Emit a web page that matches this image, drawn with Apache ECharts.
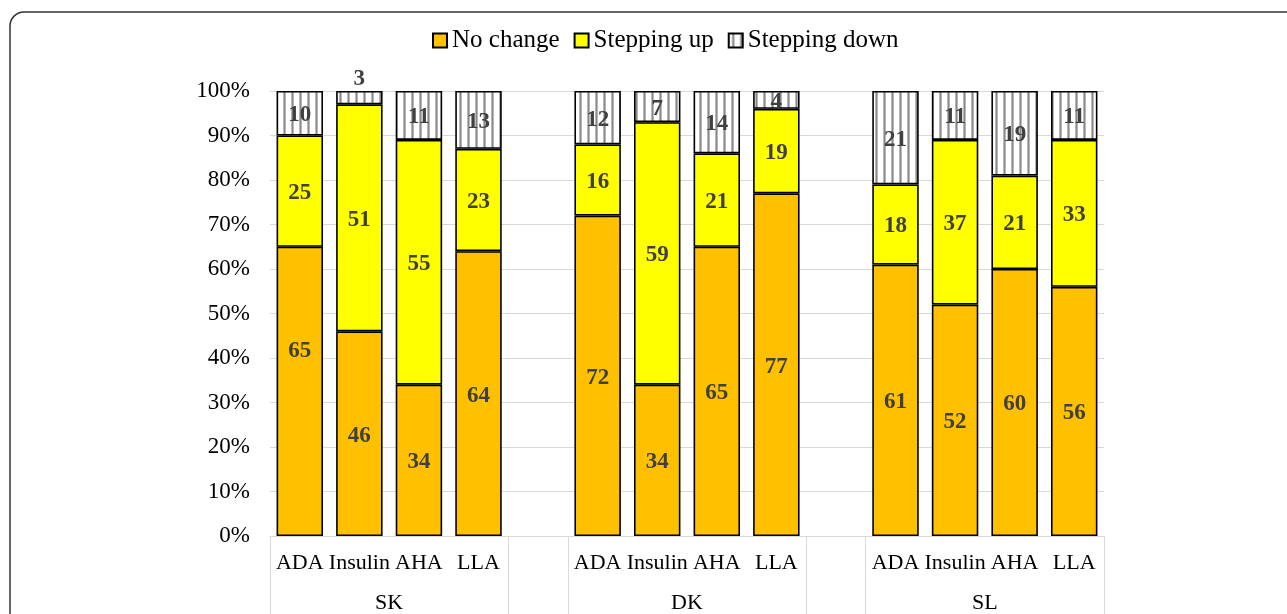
<!DOCTYPE html>
<html>
<head>
<meta charset="utf-8">
<script src="https://cdn.jsdelivr.net/npm/echarts@6/dist/echarts.min.js"></script>
<style>
html,body{margin:0;padding:0;background:#fff;}
#chart{width:1287px;height:614px;}
</style>
</head>
<body>
<div id="chart"></div>
<script>
var categories = ['ADA','Insulin','AHA','LLA','','ADA','Insulin','AHA','LLA','','ADA','Insulin','AHA','LLA'];
var groups = ['SK','DK','SL'];
var noChange     = [65,46,34,64,null,72,34,65,77,null,61,52,60,56];
var steppingUp   = [25,51,55,23,null,16,59,21,19,null,18,37,21,33];
var steppingDown = [10,3,11,13,null,12,7,14,4,null,21,11,19,11];
var yTicks = [0,10,20,30,40,50,60,70,80,90,100];

var FONT = '"Liberation Serif", "Times New Roman", serif';

// stripe pattern for "Stepping down"
var pc = document.createElement('canvas');
pc.width = 8; pc.height = 8;
var pctx = pc.getContext('2d');
pctx.fillStyle = '#ffffff';
pctx.fillRect(0,0,8,8);
pctx.fillStyle = '#b8b8b8';
pctx.fillRect(3,0,3,8);
pctx.fillStyle = '#8a8a8a';
pctx.fillRect(4,0,1,8);
var stripe = {image: pc, repeat: 'repeat'};

// group axis: 15 boundary points, group label at the middle of each block
var groupAxisData = [];
var tickIdx = [];
for (var i = 0; i <= categories.length; i++) groupAxisData.push('');
groups.forEach(function(g, k){
  var start = k * 5;
  groupAxisData[start + 2] = g;
  tickIdx.push(start, start + 4);
});

function mkData(arr, seriesIdx){
  return arr.map(function(v, i){
    if (v === null) return null;
    if (v <= 3) return {value: v, label: {position: 'top', distance: 0, offset: [0, 0]}};
    // the first "No change" label sits higher in the original figure
    if (seriesIdx === 0 && i === 0) return {value: v, label: {offset: [0, -40]}};
    return v;
  });
}

var labelStyle = {
  show: true, position: 'inside', offset: [0, 2],
  fontFamily: FONT, fontSize: 23, fontWeight: 'bold', color: '#404040'
};
var border = {borderColor: '#000', borderWidth: 1.6};

var chart = echarts.init(document.getElementById('chart'), null, {renderer: 'canvas'});
chart.setOption({
  animation: false,
  backgroundColor: '#fff',
  graphic: [{
    type: 'rect', silent: true, z: -1,
    shape: {x: 10, y: 12, width: 1320, height: 700, r: 14},
    style: {fill: 'none', stroke: '#333', lineWidth: 1.5}
  }],
  legend: {
    left: 427, top: 23,
    itemWidth: 14, itemHeight: 14, itemGap: 14,
    icon: 'rect',
    textStyle: {fontFamily: FONT, fontSize: 25, color: '#000', padding: [0,0,0,0]},
    data: ['No change', 'Stepping up', 'Stepping down']
  },
  grid: {left: 270, right: 183, top: 91, bottom: 77, containLabel: false},
  xAxis: [{
    type: 'category',
    data: categories,
    axisLine: {show: true, lineStyle: {color: '#d9d9d9', width: 1}},
    axisTick: {show: false},
    axisLabel: {interval: 0, fontFamily: FONT, fontSize: 22, color: '#000', margin: 16}
  }, {
    type: 'category',
    position: 'bottom',
    boundaryGap: false,
    data: groupAxisData,
    axisLine: {show: false},
    axisTick: {
      show: true, length: 80,
      interval: function(idx){ return tickIdx.indexOf(idx) >= 0; },
      lineStyle: {color: '#d9d9d9', width: 1}
    },
    axisLabel: {interval: 0, fontFamily: FONT, fontSize: 22, color: '#000', margin: 56}
  }],
  yAxis: {
    type: 'value', min: 0, max: 100, interval: 10,
    axisLine: {show: false}, axisTick: {show: false},
    splitLine: {lineStyle: {color: '#d9d9d9', width: 1}},
    axisLabel: {
      fontFamily: FONT, fontSize: 23, color: '#000', margin: 20, padding: [3, 0, 0, 0],
      formatter: function(v){ return yTicks.indexOf(v) >= 0 ? v + '%' : ''; }
    }
  },
  series: [{
    name: 'No change', type: 'bar', stack: 'all', barCategoryGap: '22%',
    data: mkData(noChange, 0),
    itemStyle: Object.assign({color: '#ffc000'}, border),
    label: labelStyle
  }, {
    name: 'Stepping up', type: 'bar', stack: 'all', barCategoryGap: '22%',
    data: mkData(steppingUp, 1),
    itemStyle: Object.assign({color: '#ffff00'}, border),
    label: labelStyle
  }, {
    name: 'Stepping down', type: 'bar', stack: 'all', barCategoryGap: '22%',
    data: mkData(steppingDown, 2),
    itemStyle: Object.assign({color: stripe}, border),
    label: labelStyle
  }]
});
</script>
</body>
</html>
